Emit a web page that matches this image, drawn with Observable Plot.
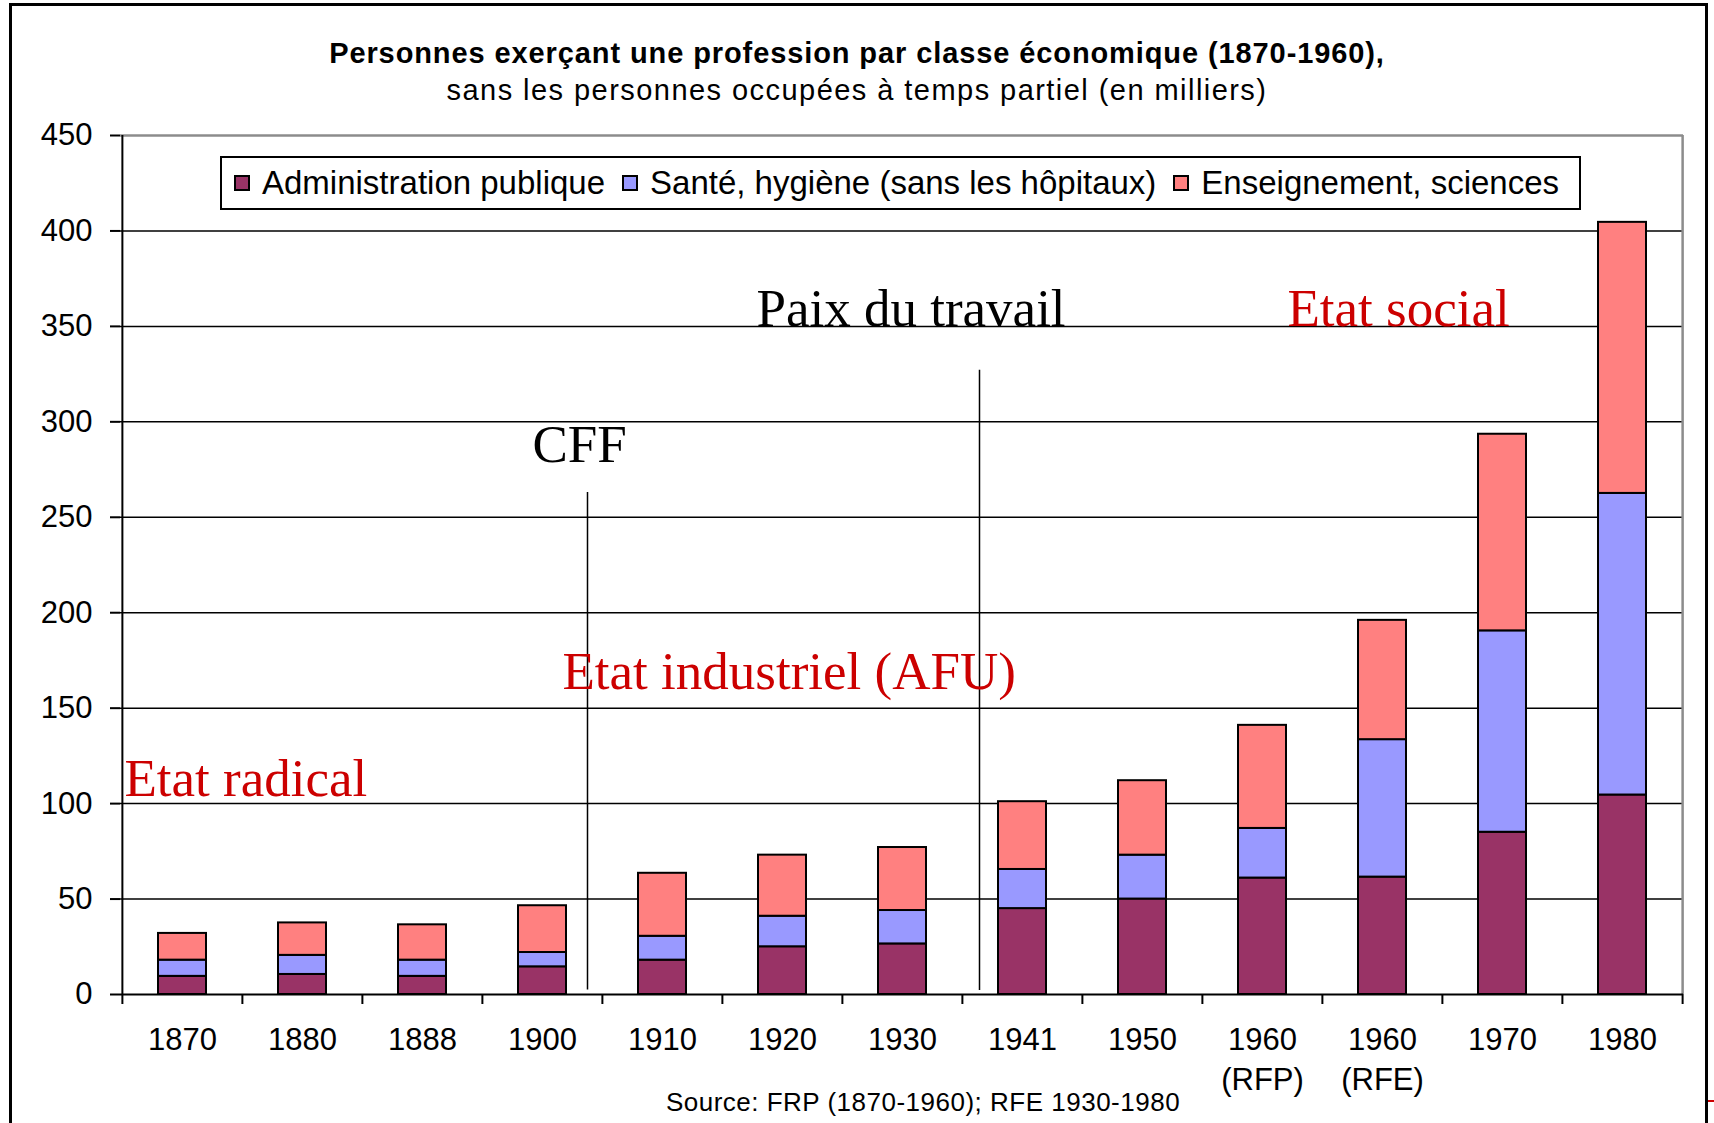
<!DOCTYPE html>
<html>
<head>
<meta charset="utf-8">
<script src="https://cdn.jsdelivr.net/npm/d3@7"></script>
<script src="https://cdn.jsdelivr.net/npm/@observablehq/plot@0.6"></script>
<style>
html, body { margin: 0; padding: 0; overflow: hidden; background: #fff; width: 1714px; height: 1123px; }
#wrap { position: relative; width: 1714px; height: 1123px; font-family: 'Liberation Sans', Arial, sans-serif; color: #000; }
#frame { position: absolute; left: 9px; top: 3px; width: 1693px; height: 1300px; border: 3px solid #000; pointer-events: none; }
#head { position: relative; height: 120px; }
#title { position: absolute; left: 0; width: 1714px; top: 37px; line-height: 32px; text-align: center; font-weight: bold; font-size: 29px; letter-spacing: 0.9px; }
#subtitle { position: absolute; left: 0; width: 1714px; top: 74px; line-height: 32px; text-align: center; font-size: 29px; letter-spacing: 1.45px; }
#legend { position: absolute; left: 220px; top: 156px; width: 1361px; height: 54px; box-sizing: border-box; border: 2px solid #000; background: #fff; display: flex; align-items: center; padding-left: 12px; font-size: 33px; white-space: nowrap; }
.item { display: flex; align-items: center; margin-right: 17px; }
.sw { width: 12px; height: 12px; border: 2px solid #000; margin-right: 12px; }
#caption { position: absolute; left: 923px; top: 1088px; transform: translateX(-50%); font-size: 26px; letter-spacing: 0.5px; line-height: 28px; white-space: nowrap; }
#dash { position: absolute; left: 1707px; top: 1100px; width: 7px; height: 2px; background: #cc0000; }
#chart svg { display: block; }
</style>
</head>
<body>
<div id="wrap">
  <div id="head">
    <div id="title">Personnes exerçant une profession par classe économique (1870-1960),</div>
    <div id="subtitle">sans les personnes occupées à temps partiel (en milliers)</div>
  </div>
  <div id="chart"></div>
  <div id="legend"></div>
  <div id="caption">Source: FRP (1870-1960); RFE 1930-1980</div>
  <div id="dash"></div>
  <div id="frame"></div>
</div>
<script>
// ---- data ----
const categories = ["1870", "1880", "1888", "1900", "1910", "1920", "1930", "1941", "1950", "1960\n(RFP)", "1960\n(RFE)", "1970", "1980"];
const seriesNames = ["Administration publique", "Santé, hygiène (sans les hôpitaux)", "Enseignement, sciences"];
const seriesColors = ["#993366", "#9999FF", "#FF8080"];
const administration = [9.5, 10.5, 9.5, 14.5, 18, 25, 26.5, 45, 50, 61, 61.5, 85, 104.5];
const sante = [8.5, 10, 8.5, 7.5, 12.5, 16, 17.5, 20.5, 23, 26, 72, 105.5, 158];
const enseignement = [14, 17, 18.5, 24.5, 33, 32, 33, 35.5, 39, 54, 62.5, 103, 142];
const yTicks = [0, 50, 100, 150, 200, 250, 300, 350, 400, 450];
const gridValues = [50, 100, 150, 200, 250, 300, 350, 400];

// ---- build table ----
const seriesValues = [administration, sante, enseignement];
const rows = [];
seriesNames.forEach((s, si) => {
  categories.forEach((c, ci) => rows.push({cat: c, series: s, value: seriesValues[si][ci]}));
});

const W = 1714, H = 975, mL = 120, mR = 31, mT = 15, mB = 101;
const step = (W - mL - mR) / categories.length;
const last = categories[categories.length - 1];
const red = "#CC0000";
const serif = "'Liberation Serif', 'Times New Roman', serif";

const plot = Plot.plot({
  width: W, height: H,
  marginLeft: mL, marginRight: mR, marginTop: mT, marginBottom: mB,
  style: {fontFamily: "'Liberation Sans', Arial, sans-serif", fontSize: "31px", color: "#000", background: "transparent", overflow: "visible"},
  x: {type: "band", domain: categories, paddingInner: 0.6, paddingOuter: 0.3, label: null},
  y: {domain: [0, 450], label: null},
  color: {domain: seriesNames, range: seriesColors},
  marks: [
    Plot.ruleY(gridValues, {stroke: "#000", strokeWidth: 1.5}),
    Plot.ruleY([450], {stroke: "#8c8c8c", strokeWidth: 2.5}),
    Plot.ruleX([last], {dx: step / 2, stroke: "#8c8c8c", strokeWidth: 2.5}),
    Plot.barY(rows, {x: "cat", y: "value", fill: "series", stroke: "#000", strokeWidth: 2}),
    Plot.ruleX([{x: categories[3], y1: 2.4, y2: 263}], {x: "x", y1: "y1", y2: "y2", dx: 45, stroke: "#000", strokeWidth: 1.5}),
    Plot.ruleX([{x: categories[7], y1: 2.1, y2: 327}], {x: "x", y1: "y1", y2: "y2", dx: -43, stroke: "#000", strokeWidth: 1.5}),
    Plot.ruleY([0], {stroke: "#000", strokeWidth: 2}),
    Plot.ruleX([categories[0]], {dx: -step / 2, stroke: "#000", strokeWidth: 2}),
    Plot.axisY({ticks: yTicks, tickSize: 10, tickPadding: 18, strokeWidth: 2, label: null}),
    Plot.axisX({tickSize: 0, tickPadding: 27, lineHeight: 1.29, label: null}),
    Plot.axisX({tickSize: 10, tickFormat: () => "", dx: -step / 2, strokeWidth: 2, label: null}),
    Plot.axisX([last], {tickSize: 10, tickFormat: () => "", dx: step / 2, strokeWidth: 2, label: null}),
    Plot.text([{x: categories[0], y: 104, t: "Etat radical"}], {x: "x", y: "y", text: "t", dx: -58, textAnchor: "start", lineAnchor: "bottom", fontFamily: serif, fontSize: 53, fill: red}),
    Plot.text([{x: categories[3], y: 279, t: "CFF"}], {x: "x", y: "y", text: "t", dx: -10, textAnchor: "start", lineAnchor: "bottom", fontFamily: serif, fontSize: 53, fill: "#000"}),
    Plot.text([{x: categories[3], y: 160, t: "Etat industriel (AFU)"}], {x: "x", y: "y", text: "t", dx: 20, textAnchor: "start", lineAnchor: "bottom", fontFamily: serif, fontSize: 53, fill: red}),
    Plot.text([{x: categories[6], y: 350, t: "Paix du travail"}], {x: "x", y: "y", text: "t", dx: -146, textAnchor: "start", lineAnchor: "bottom", fontFamily: serif, fontSize: 53, fill: "#000"}),
    Plot.text([{x: categories[9], y: 350, t: "Etat social"}], {x: "x", y: "y", text: "t", dx: 25, textAnchor: "start", lineAnchor: "bottom", fontFamily: serif, fontSize: 53, fill: red})
  ]
});
document.getElementById("chart").appendChild(plot);

// ---- legend ----
const legend = document.getElementById("legend");
seriesNames.forEach((s, i) => {
  const it = document.createElement("div");
  it.className = "item";
  const sw = document.createElement("div");
  sw.className = "sw";
  sw.style.background = seriesColors[i];
  const tx = document.createElement("span");
  tx.textContent = s;
  it.appendChild(sw); it.appendChild(tx);
  legend.appendChild(it);
});
</script>
</body>
</html>
